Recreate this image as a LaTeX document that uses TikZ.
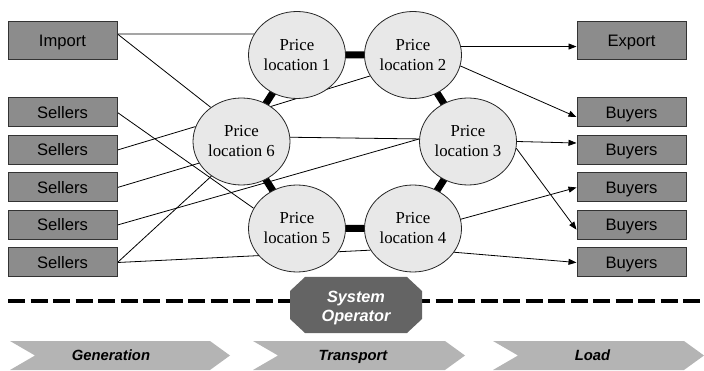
\documentclass[tikz,border=0pt]{standalone}
\usepackage{fontspec}
\setmainfont{Liberation Serif}
\setsansfont{Liberation Sans}
\newfontfamily\locfont{Liberation Serif}
\newfontfamily\labfont{Liberation Sans}
\usetikzlibrary{shapes.geometric,arrows.meta,backgrounds}
\definecolor{boxgray}{HTML}{8C8C8C}
\definecolor{circgray}{HTML}{E8E8E8}
\definecolor{opgray}{HTML}{646464}
\definecolor{chevgray}{HTML}{B4B4B4}
\begin{document}
\begin{tikzpicture}[x=1pt,y=-1pt,
  box/.style={draw=black!80, line width=1pt, fill=boxgray, minimum width=109pt, minimum height=29pt,
    inner sep=0pt, text height=11.9pt, text depth=0pt, font=\labfont\fontsize{16.6}{20}\selectfont},
  bigbox/.style={box, minimum height=38pt},
  loc/.style={ellipse, draw=black!85, line width=0.8pt, fill=circgray, minimum width=97pt, minimum height=87pt,
    inner sep=0pt, align=center, font=\locfont\fontsize{16.8}{20}\selectfont},
  link/.style={line width=0.8pt},
  flow/.style={link, -{Triangle[length=8pt,width=6pt]}},
  bar/.style={line width=7pt, line join=round},
  chev/.style={fill=chevgray},
  chevtext/.style={inner sep=0pt, text height=10.9pt, text depth=0pt, font=\labfont\bfseries\itshape\fontsize{14.8}{18}\selectfont},
  optext/.style={text=white, align=center, font=\labfont\bfseries\itshape\fontsize{16.3}{19}\selectfont},
]
\useasboundingbox (0,0) rectangle (704,371);

% left boxes
\node[bigbox] (imp) at (62.5,41) {Import};
\node[box] (s1) at (62.5,112.5) {Sellers};
\node[box] (s2) at (62.5,150) {Sellers};
\node[box] (s3) at (62.5,187.5) {Sellers};
\node[box] (s4) at (62.5,225) {Sellers};
\node[box] (s5) at (62.5,262.5) {Sellers};
% right boxes
\node[bigbox] (exp) at (631.5,41) {Export};
\node[box] (b1) at (631.5,112.5) {Buyers};
\node[box] (b2) at (631.5,150) {Buyers};
\node[box] (b3) at (631.5,187.5) {Buyers};
\node[box] (b4) at (631.5,225) {Buyers};
\node[box] (b5) at (631.5,262.5) {Buyers};

% price locations
\node[loc] (p1) at (297,55) {Price\\location 1};
\node[loc] (p2) at (413,55) {Price\\location 2};
\node[loc] (p3) at (468,141.5) {Price\\location 3};
\node[loc] (p4) at (413,228.5) {Price\\location 4};
\node[loc] (p5) at (297,228.5) {Price\\location 5};
\node[loc] (p6) at (241.5,141.5) {Price\\location 6};

\begin{scope}[on background layer]
  \draw[bar] (p1.center) -- (p2.center) -- (p3.center) -- (p4.center) -- (p5.center) -- (p6.center) -- cycle;
  \draw[link] ([yshift=7pt]imp.east) -- (p1.154);
  \draw[link] ([yshift=7pt]imp.east) -- (p6.132);
  \draw[link] (s1.east) -- (p5.155);
  \draw[link] (s2.east) -- (p6.162);
  \draw[link] (s3.east) -- (p6.207);
  \draw[link] (s4.east) -- (p3.177);
  \draw[link] (s5.east) -- (p6.229);
  \draw[link] (s5.east) -- (p4.207);
  \draw[link] (p6.50) -- (p2.206);
  \draw[link] (p6.5) -- (p3.177);
\end{scope}

% arrows to export / buyers
\draw[flow] (p2.10) -- (p2.10 -| exp.west);
\draw[flow] (p2.347) -- ([yshift=-4.5pt]b1.west);
\draw[flow] (p3.0) -- ([yshift=7pt]b2.west);
\draw[flow] (p3.352) -- ([yshift=-4.7pt]b4.west);
\draw[flow] (p4.11) -- (b3.west);
\draw[flow] (p4.330) -- (b5.west);

% system operator line
\coordinate (dl) at (8,301);
\coordinate (dr) at (704,301);
\draw[line width=4pt, dash pattern=on 17pt off 5.5pt] (dl) -- (dr);
\fill[opgray] (305,277) -- (407,277) -- (422,291) -- (422,319) -- (407,333) -- (305,333) -- (290,319) -- (290,291) -- cycle;
\node[optext] (so) at (356,308) {System\\Operator};

% chevrons
\fill[chev] (10,341) -- (210,341) -- (230,355.5) -- (210,370) -- (10,370) -- (35,355.5) -- cycle;
\fill[chev] (253,341) -- (445,341) -- (465,355.5) -- (445,370) -- (253,370) -- (278,355.5) -- cycle;
\fill[chev] (493,341) -- (684,341) -- (704,355.5) -- (684,370) -- (493,370) -- (518,355.5) -- cycle;
\node[chevtext] (gen) at (111,355) {Generation};
\node[chevtext] (tra) at (353,355) {Transport};
\node[chevtext] (lod) at (592.5,355) {Load};
\end{tikzpicture}
\end{document}
